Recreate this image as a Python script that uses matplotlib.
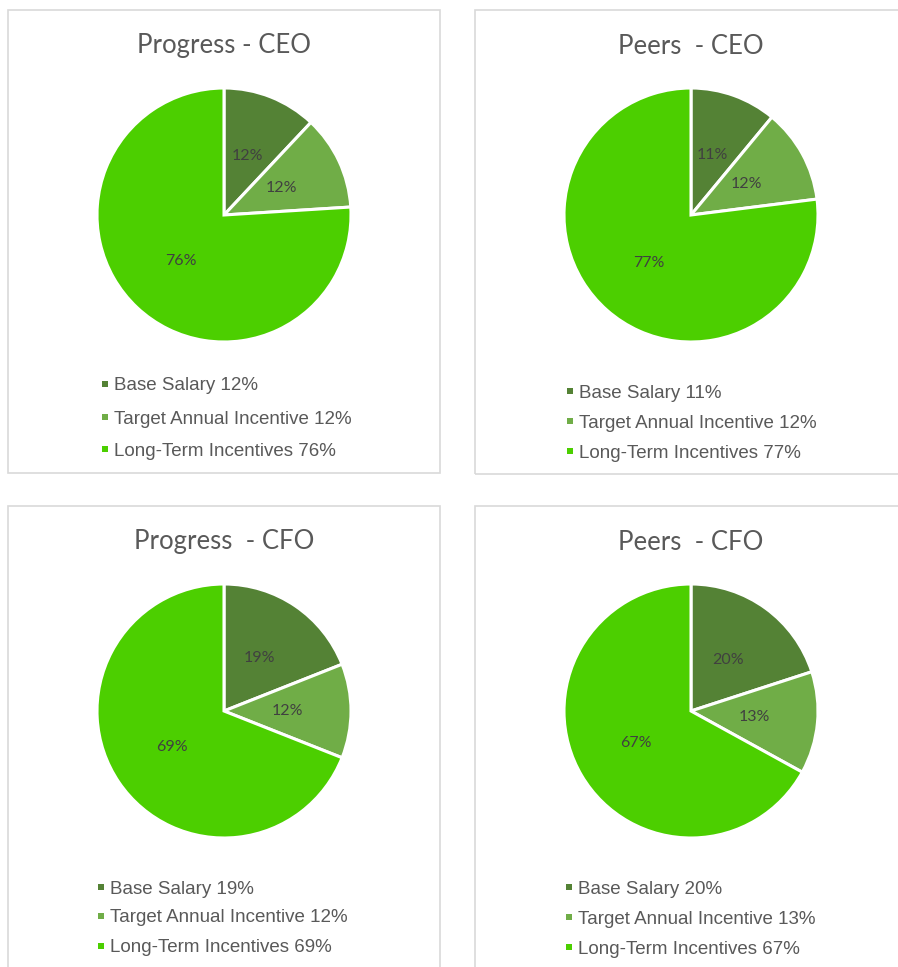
import matplotlib
matplotlib.use("Agg")
import matplotlib.pyplot as plt
from matplotlib.patches import Rectangle

W, H = 898, 967

titles = ["Progress - CEO", "Peers  - CEO", "Progress  - CFO", "Peers  - CFO"]
categories = ["Base Salary", "Target Annual Incentive", "Long-Term Incentives"]
progress_ceo = [12, 12, 76]
peers_ceo = [11, 12, 77]
progress_cfo = [19, 12, 69]
peers_cfo = [20, 13, 67]
colors = ["#548235", "#70AD47", "#4CCF00"]

# panel layout in pixels: border box, pie centre, title y, legend x/rows
panels = [
    dict(box=(8, 10, 440, 473), c=(224, 215), ty=46, lx=102, rows=(384, 417, 449)),
    dict(box=(475, 10, 905, 474), c=(691, 215), ty=46, lx=567, rows=(391, 421, 451)),
    dict(box=(8, 506, 440, 975), c=(224, 711), ty=542, lx=98, rows=(887, 916, 946)),
    dict(box=(475, 506, 905, 975), c=(691, 711), ty=542, lx=566, rows=(887, 917, 947)),
]
R = 127

fig = plt.figure(figsize=(W / 100, H / 100), dpi=100)
fig.patch.set_facecolor("white")

for title, vals, p in zip(titles, [progress_ceo, peers_ceo, progress_cfo, peers_cfo], panels):
    x0, y0, x1, y1 = p["box"]
    fig.patches.append(Rectangle((x0 / W, 1 - y1 / H), (x1 - x0) / W, (y1 - y0) / H,
                                 transform=fig.transFigure, fill=False,
                                 edgecolor="#D9D9D9", linewidth=1.2))
    cx, cy = p["c"]
    ax = fig.add_axes([(cx - R) / W, 1 - (cy + R) / H, 2 * R / W, 2 * R / H])
    wedges, texts, autotexts = ax.pie(
        vals, colors=colors, startangle=90, counterclock=False,
        autopct="%.0f%%", pctdistance=0.5,
        wedgeprops=dict(edgecolor="white", linewidth=2.2),
        textprops=dict(color="#404040", fontsize=11.5, family="Lato"))
    ax.set_xlim(-1, 1)
    ax.set_ylim(-1, 1)
    ax.set_aspect("equal")
    ax.axis("off")

    fig.text(cx / W, 1 - p["ty"] / H, title, ha="center", va="center",
             fontsize=18.5, color="#595959", family="Lato")

    for name, v, col, ry in zip(categories, vals, colors, p["rows"]):
        s = 6
        fig.patches.append(Rectangle((p["lx"] / W, 1 - (ry + s / 2) / H), s / W, s / H,
                                     transform=fig.transFigure, facecolor=col,
                                     edgecolor="none"))
        fig.text((p["lx"] + 12) / W, 1 - ry / H, f"{name} {v}%", ha="left",
                 va="center_baseline",
                 fontsize=13.5, color="#595959", family="Liberation Sans")

fig.savefig("out.png", dpi=100, facecolor="white")
